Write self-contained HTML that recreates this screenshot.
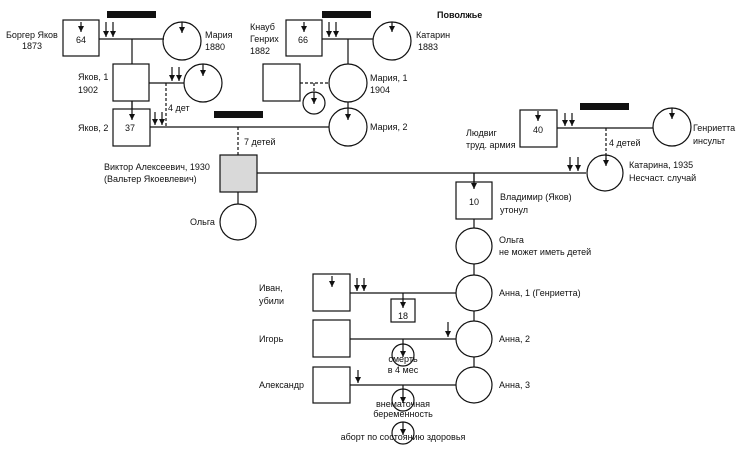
<!DOCTYPE html>
<html><head><meta charset="utf-8"><style>
html,body{margin:0;padding:0;background:#fff;}
svg{display:block;}
text{font-family:"Liberation Sans",sans-serif;font-size:9px;fill:#111;}
</style></head><body>
<svg width="744" height="452" viewBox="0 0 744 452" xmlns="http://www.w3.org/2000/svg">
<defs>
<marker id="a" markerWidth="6" markerHeight="6" refX="6" refY="3" orient="auto" markerUnits="userSpaceOnUse" viewBox="0 0 6 6">
<path d="M0,0 L6,3 L0,6 z" fill="#111"/></marker>
</defs>
<g stroke="#111" stroke-width="1.2" fill="none">
<rect x="63" y="20" width="36" height="36"/>
<line x1="99" y1="39" x2="164" y2="39"/>
<circle cx="182" cy="41" r="19"/>
<line x1="132" y1="39" x2="132" y2="64"/>
<rect x="113" y="64" width="36" height="37"/>
<line x1="149" y1="83" x2="184" y2="83"/>
<circle cx="203" cy="83" r="19"/>
<line x1="166" y1="83" x2="166" y2="127" stroke-dasharray="3,2"/>
<line x1="132" y1="101" x2="132" y2="109"/>
<rect x="113" y="109" width="37" height="37"/>
<line x1="150" y1="127" x2="329" y2="127"/>
<line x1="238" y1="127" x2="238" y2="155" stroke-dasharray="3,2"/>
<rect x="220" y="155" width="37" height="37" fill="#d9d9d9"/>
<line x1="257" y1="173" x2="586" y2="173"/>
<line x1="238" y1="192" x2="238" y2="204"/>
<circle cx="238" cy="222" r="18"/>
<rect x="286" y="20" width="36" height="36"/>
<line x1="322" y1="39" x2="373" y2="39"/>
<circle cx="392" cy="41" r="19"/>
<line x1="348" y1="39" x2="348" y2="64"/>
<circle cx="348" cy="83" r="19"/>
<rect x="263" y="64" width="37" height="37"/>
<line x1="300" y1="83" x2="329" y2="83" stroke-dasharray="3,2"/>
<line x1="314" y1="83" x2="314" y2="92" stroke-dasharray="3,2"/>
<circle cx="314" cy="103" r="11"/>
<line x1="348" y1="102" x2="348" y2="108"/>
<circle cx="348" cy="127" r="19"/>
<rect x="520" y="110" width="37" height="37"/>
<line x1="557" y1="128" x2="653" y2="128"/>
<circle cx="672" cy="127" r="19"/>
<line x1="606" y1="128" x2="606" y2="162" stroke-dasharray="3,2"/>
<circle cx="605" cy="173" r="18"/>
<line x1="474" y1="173" x2="474" y2="182"/>
<rect x="456" y="182" width="36" height="37"/>
<line x1="474" y1="219" x2="474" y2="228"/>
<circle cx="474" cy="246" r="18"/>
<line x1="474" y1="264" x2="474" y2="275"/>
<circle cx="474" cy="293" r="18"/>
<line x1="474" y1="311" x2="474" y2="321"/>
<circle cx="474" cy="339" r="18"/>
<line x1="474" y1="357" x2="474" y2="367"/>
<circle cx="474" cy="385" r="18"/>
<rect x="313" y="274" width="37" height="37"/>
<line x1="350" y1="293" x2="456" y2="293"/>
<rect x="391" y="299" width="24" height="23"/>
<rect x="313" y="320" width="37" height="37"/>
<line x1="350" y1="339" x2="456" y2="339"/>
<circle cx="403" cy="355" r="11"/>
<rect x="313" y="367" width="37" height="36"/>
<line x1="350" y1="385" x2="456" y2="385"/>
<circle cx="403" cy="400" r="11"/>
<circle cx="403" cy="433" r="11"/>
</g>
<g stroke="#111" stroke-width="1.2" marker-end="url(#a)">
<line x1="81" y1="22" x2="81" y2="32"/>
<line x1="106" y1="22" x2="106" y2="37"/>
<line x1="113" y1="22" x2="113" y2="37"/>
<line x1="182" y1="22" x2="182" y2="33"/>
<line x1="172" y1="67" x2="172" y2="81"/>
<line x1="179" y1="67" x2="179" y2="81"/>
<line x1="203" y1="64" x2="203" y2="76"/>
<line x1="132" y1="101" x2="132" y2="120"/>
<line x1="155" y1="112" x2="155" y2="125"/>
<line x1="162" y1="112" x2="162" y2="125"/>
<line x1="304" y1="22" x2="304" y2="32"/>
<line x1="329" y1="22" x2="329" y2="37"/>
<line x1="336" y1="22" x2="336" y2="37"/>
<line x1="392" y1="22" x2="392" y2="32"/>
<line x1="314" y1="92" x2="314" y2="104"/>
<line x1="348" y1="108" x2="348" y2="120"/>
<line x1="538" y1="111" x2="538" y2="121"/>
<line x1="565" y1="113" x2="565" y2="126"/>
<line x1="572" y1="113" x2="572" y2="126"/>
<line x1="672" y1="108" x2="672" y2="119"/>
<line x1="606" y1="155" x2="606" y2="166"/>
<line x1="570" y1="157" x2="570" y2="171"/>
<line x1="578" y1="157" x2="578" y2="171"/>
<line x1="474" y1="173" x2="474" y2="189"/>
<line x1="332" y1="276" x2="332" y2="287"/>
<line x1="357" y1="278" x2="357" y2="291"/>
<line x1="364" y1="278" x2="364" y2="291"/>
<line x1="403" y1="293" x2="403" y2="308"/>
<line x1="448" y1="322" x2="448" y2="337"/>
<line x1="403" y1="339" x2="403" y2="357"/>
<line x1="358" y1="370" x2="358" y2="383"/>
<line x1="403" y1="385" x2="403" y2="403"/>
<line x1="403" y1="422" x2="403" y2="435"/>
</g>
<g fill="#111">
<rect x="107" y="11" width="49" height="7"/>
<rect x="322" y="11" width="49" height="7"/>
<rect x="214" y="111" width="49" height="7"/>
<rect x="580" y="103" width="49" height="7"/>
</g>
<text x="6" y="38">Боргер Яков</text>
<text x="22" y="49">1873</text>
<text x="76" y="43">64</text>
<text x="205" y="38">Мария</text>
<text x="205" y="50">1880</text>
<text x="78" y="80">Яков, 1</text>
<text x="78" y="93">1902</text>
<text x="168" y="111">4 дет</text>
<text x="78" y="131">Яков, 2</text>
<text x="125" y="131">37</text>
<text x="244" y="145">7 детей</text>
<text x="104" y="170">Виктор Алексеевич, 1930</text>
<text x="104" y="182">(Вальтер Якоевлевич)</text>
<text x="190" y="225">Ольга</text>
<text x="250" y="30">Кнауб</text>
<text x="250" y="42">Генрих</text>
<text x="250" y="54">1882</text>
<text x="298" y="43">66</text>
<text x="416" y="38">Катарин</text>
<text x="418" y="50">1883</text>
<text x="437" y="18" style="font-weight:bold">Поволжье</text>
<text x="370" y="81">Мария, 1</text>
<text x="370" y="93">1904</text>
<text x="370" y="130">Мария, 2</text>
<text x="533" y="133">40</text>
<text x="466" y="136">Людвиг</text>
<text x="466" y="148">труд. армия</text>
<text x="693" y="131">Генриетта</text>
<text x="693" y="144">инсульт</text>
<text x="609" y="146">4 детей</text>
<text x="629" y="168">Катарина, 1935</text>
<text x="629" y="181">Несчаст. случай</text>
<text x="469" y="205">10</text>
<text x="500" y="200">Владимир (Яков)</text>
<text x="500" y="213">утонул</text>
<text x="499" y="243">Ольга</text>
<text x="499" y="255">не может иметь детей</text>
<text x="499" y="296">Анна, 1 (Генриетта)</text>
<text x="499" y="342">Анна, 2</text>
<text x="499" y="388">Анна, 3</text>
<text x="259" y="291">Иван,</text>
<text x="259" y="304">убили</text>
<text x="398" y="319">18</text>
<text x="259" y="342">Игорь</text>
<text x="259" y="388">Александр</text>
<text x="403" y="362" text-anchor="middle">смерть</text>
<text x="403" y="373" text-anchor="middle">в 4 мес</text>
<text x="403" y="407" text-anchor="middle">внематочная</text>
<text x="403" y="417" text-anchor="middle">беременность</text>
<text x="403" y="440" text-anchor="middle">аборт по состоянию здоровья</text>
</svg>
</body></html>
